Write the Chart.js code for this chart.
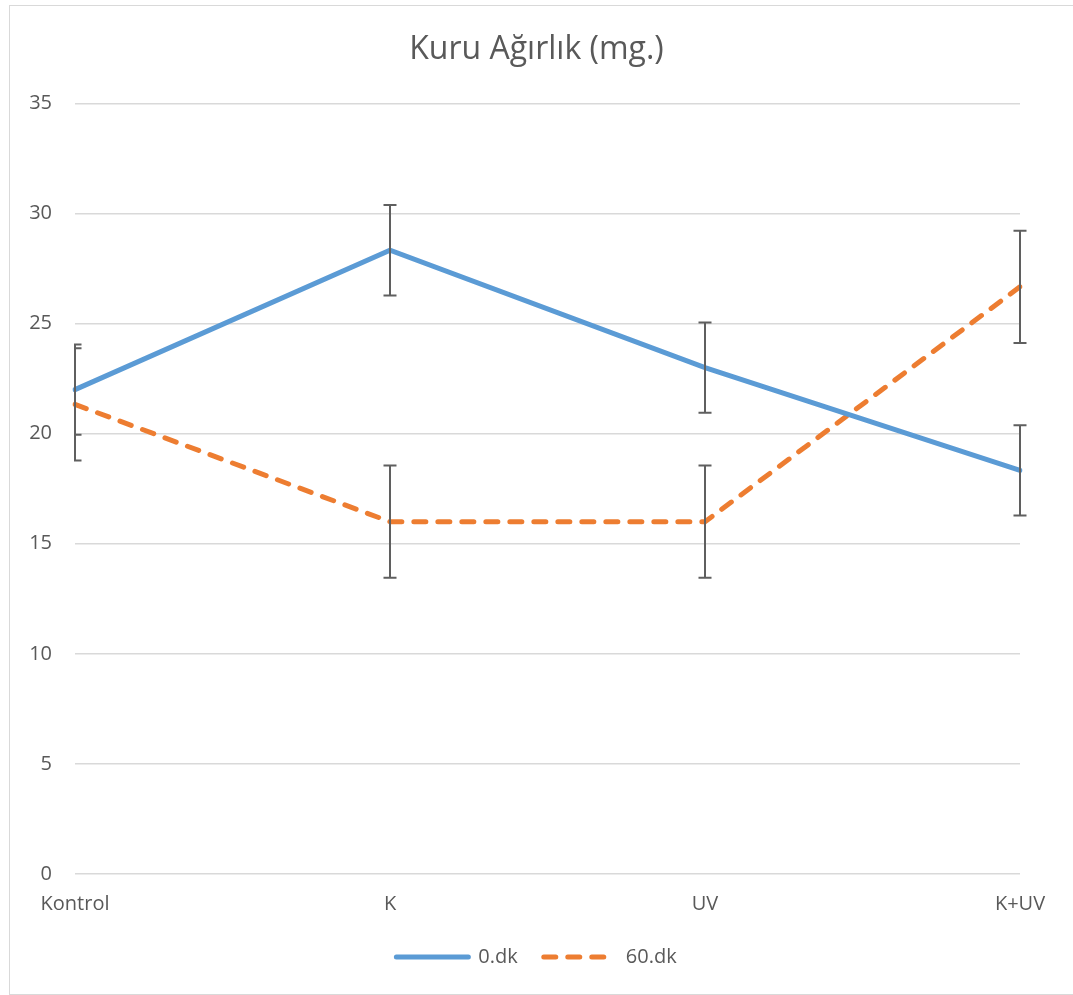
<!DOCTYPE html>
<html>
<head>
<meta charset="utf-8">
<script src="https://cdn.jsdelivr.net/npm/chart.js@4"></script>
<style>
  html, body { margin: 0; background: #fff; overflow: hidden; width: 1073px; height: 995px; }
  #cadre { position: absolute; left: 9px; top: 5px; width: 1100px; height: 990px; border: 1px solid #d9d9d9; box-sizing: border-box; }
  #zone { position: absolute; left: 0; top: 0; width: 1073px; height: 995px; }
</style>
</head>
<body>
<div id="cadre"></div>
<div id="zone"><canvas id="myChart" width="1073" height="995"></canvas></div>
<script>
// Données
const categories = ["Kontrol", "K", "UV", "K+UV"];
const valeurs0dk = [22, 28.33, 23, 18.33];
const valeurs60dk = [21.33, 16, 16, 26.67];
const erreurs0dk = [2.05, 2.05, 2.05, 2.05];
const erreurs60dk = [2.55, 2.55, 2.55, 2.55];
const ticksY = [0, 5, 10, 15, 20, 25, 30, 35];

const gris = "#595959";
const police = "'Open Sans', 'DejaVu Sans', sans-serif";

// Plugin pour dessiner les barres d'erreur avec les échelles du graphique
const barresErreur = {
    id: "barresErreur",
    afterDatasetsDraw(chart) {
        const ctx = chart.ctx;
        const x = chart.scales.x;
        const y = chart.scales.y;
        const zone = chart.chartArea;
        ctx.save();
        ctx.beginPath();
        ctx.rect(zone.left - 1, zone.top - 10, zone.right - zone.left + 20, zone.bottom - zone.top + 20);
        ctx.clip();
        ctx.strokeStyle = "#5f5f5f";
        ctx.lineWidth = 2;
        chart.data.datasets.forEach(ds => {
            ds.data.forEach((v, i) => {
                const px = x.getPixelForValue(i);
                const haut = y.getPixelForValue(v + ds.erreurs[i]);
                const bas = y.getPixelForValue(v - ds.erreurs[i]);
                ctx.beginPath();
                ctx.moveTo(px, haut);
                ctx.lineTo(px, bas);
                ctx.moveTo(px - 6.5, haut);
                ctx.lineTo(px + 6.5, haut);
                ctx.moveTo(px - 6.5, bas);
                ctx.lineTo(px + 6.5, bas);
                ctx.stroke();
            });
        });
        ctx.restore();
    }
};

const ctx = document.getElementById("myChart").getContext("2d");
const myChart = new Chart(ctx, {
    type: "line",
    data: {
        labels: categories,
        datasets: [
            {
                label: "0.dk",
                data: valeurs0dk,
                erreurs: erreurs0dk,
                borderColor: "#5b9bd5",
                backgroundColor: "#5b9bd5",
                borderWidth: 5,
                borderCapStyle: "round",
                pointRadius: 0,
                tension: 0
            },
            {
                label: "60.dk",
                data: valeurs60dk,
                erreurs: erreurs60dk,
                borderColor: "#ed7d31",
                backgroundColor: "#ed7d31",
                borderWidth: 5,
                borderDash: [12, 12],
                borderCapStyle: "round",
                pointRadius: 0,
                tension: 0
            }
        ]
    },
    options: {
        responsive: false,
        animation: false,
        layout: { padding: { top: 10, right: 0, bottom: 18, left: 0 } },
        plugins: {
            title: {
                display: true,
                text: "Kuru Ağırlık (mg.)",
                color: gris,
                font: { family: police, size: 32, weight: "normal" },
                padding: { top: 21, bottom: 34 }
            },
            legend: {
                position: "bottom",
                labels: {
                    usePointStyle: true,
                    pointStyle: "line",
                    pointStyleWidth: 72,
                    color: gris,
                    font: { family: police, size: 20 },
                    padding: 26,
                    generateLabels(chart) {
                        return chart.data.datasets.map((ds, i) => ({
                            text: ds.label,
                            strokeStyle: ds.borderColor,
                            fillStyle: ds.borderColor,
                            lineWidth: 5,
                            lineDash: ds.borderDash || [],
                            lineCap: "round",
                            pointStyle: "line",
                            fontColor: gris,
                            datasetIndex: i
                        }));
                    }
                }
            },
            tooltip: { enabled: false }
        },
        scales: {
            x: {
                offset: false,
                grid: { display: false, drawTicks: false },
                border: { display: false },
                ticks: { color: gris, font: { family: police, size: 20 }, padding: 18, maxRotation: 0 },
                afterFit(scale) { scale.height = 47; }
            },
            y: {
                min: 0,
                max: 35,
                afterBuildTicks(scale) { scale.ticks = ticksY.map(v => ({ value: v })); },
                grid: { color: "#d9d9d9", lineWidth: 1.5, drawTicks: false },
                border: { display: false },
                ticks: { color: gris, font: { family: police, size: 20 }, padding: 23 },
                afterFit(scale) { scale.width = 75; }
            },
            // axe vide à droite pour réserver la marge
            droite: {
                position: "right",
                display: true,
                grid: { display: false, drawTicks: false },
                border: { display: false },
                ticks: { display: false },
                afterFit(scale) { scale.width = 53; }
            }
        }
    },
    plugins: [barresErreur]
});
</script>
</body>
</html>
